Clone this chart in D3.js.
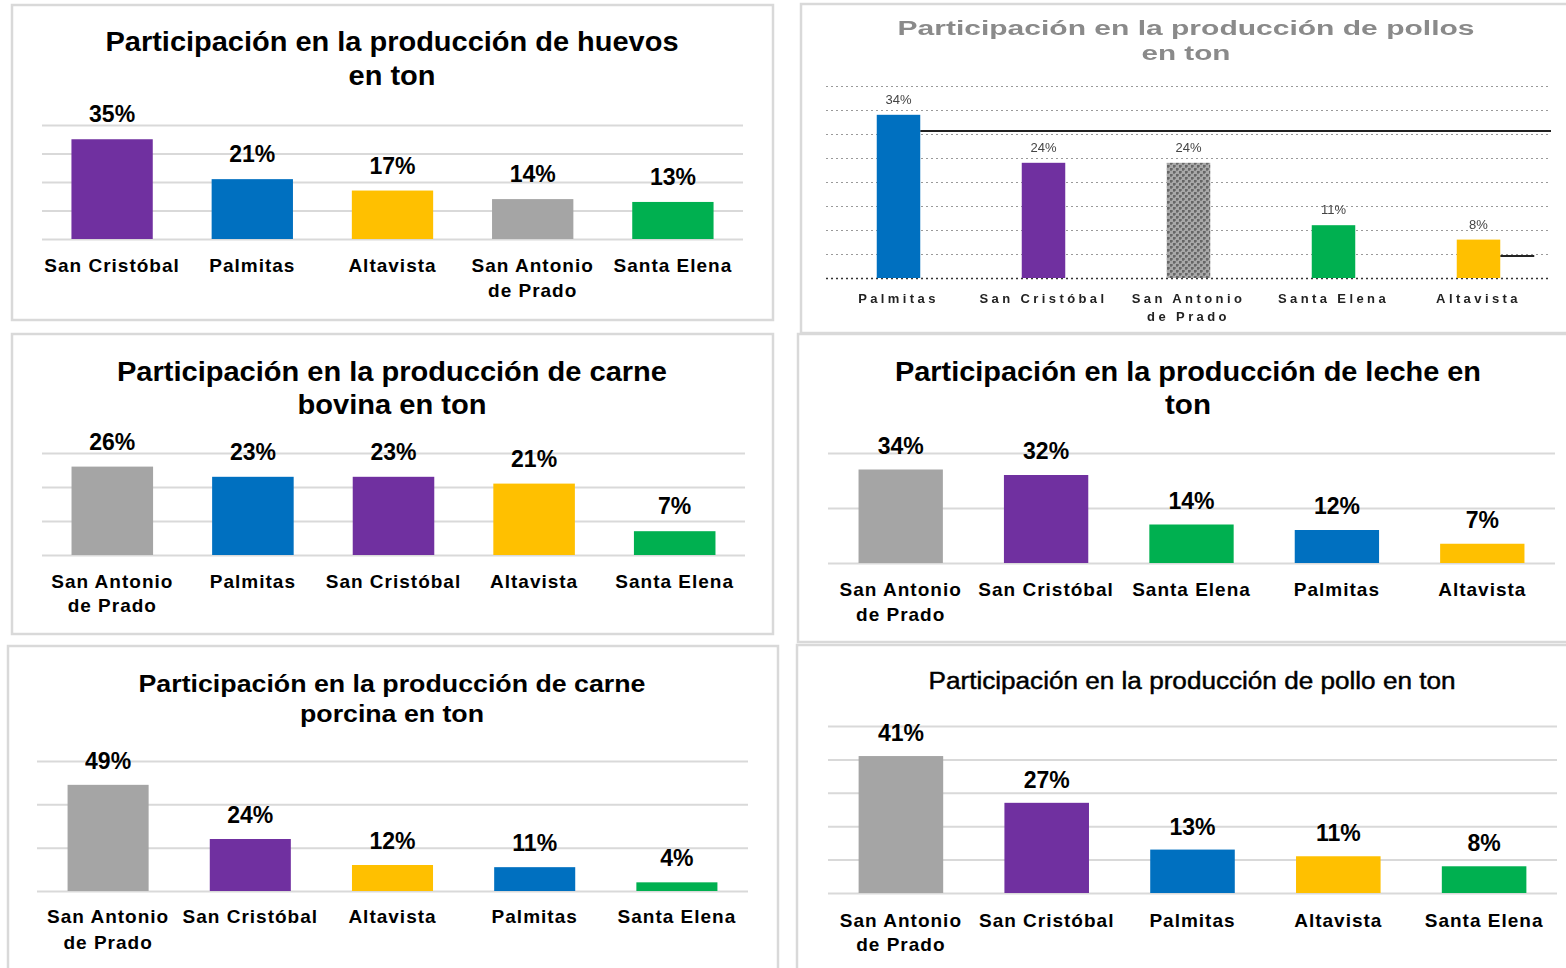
<!DOCTYPE html>
<html lang="es">
<head>
    <meta charset="UTF-8">
    <title>Participación en la producción</title>
    <script src="https://d3js.org/d3.v7.min.js"></script>
    <style>
        body { margin: 0; background: #fff; }
        svg { display: block; font-family: "Liberation Sans", Arial, sans-serif; }
        .grid line { stroke: #d9d9d9; stroke-width: 2; }
        .grid .domain { display: none; }
    </style>
</head>
<body>
<div id="plot"></div>
<script>
    // datos de cada gráfico
    const huevosCats = ['San Cristóbal', 'Palmitas', 'Altavista', 'San Antonio de Prado', 'Santa Elena'];
    const huevosVals = [35, 21, 17, 14, 13];

    const pollosCats = ['Palmitas', 'San Cristóbal', 'San Antonio de Prado', 'Santa Elena', 'Altavista'];
    const pollosVals = [34, 24, 24, 11, 8];

    const bovinaCats = ['San Antonio de Prado', 'Palmitas', 'San Cristóbal', 'Altavista', 'Santa Elena'];
    const bovinaVals = [26, 23, 23, 21, 7];

    const lecheCats = ['San Antonio de Prado', 'San Cristóbal', 'Santa Elena', 'Palmitas', 'Altavista'];
    const lecheVals = [34, 32, 14, 12, 7];

    const porcinaCats = ['San Antonio de Prado', 'San Cristóbal', 'Altavista', 'Palmitas', 'Santa Elena'];
    const porcinaVals = [49, 24, 12, 11, 4];

    const polloCats = ['San Antonio de Prado', 'San Cristóbal', 'Palmitas', 'Altavista', 'Santa Elena'];
    const polloVals = [41, 27, 13, 11, 8];

    // líneas sueltas que aparecen en el gráfico de pollos
    const pollosRefLine = 30.6;
    const pollosRefLine2 = 4.6;

    const colors = {
        'San Cristóbal': '#7030a0',
        'Palmitas': '#0070c0',
        'Altavista': '#ffc000',
        'San Antonio de Prado': '#a5a5a5',
        'Santa Elena': '#00b050'
    };

    const svg = d3.select('#plot').append('svg')
        .attr('width', 1566)
        .attr('height', 968);

    const defs = svg.append('defs');
    let pat = defs.append('pattern')
        .attr('id', 'noise')
        .attr('width', 6).attr('height', 6)
        .attr('patternUnits', 'userSpaceOnUse');
    pat.append('rect').attr('width', 6).attr('height', 6).attr('fill', '#a8a8a8');
    pat.append('path').attr('d', 'M0 1h3M3 4h3M1 0v3M4 3v3').attr('stroke', '#505050').attr('stroke-width', 1);
    defs.append('filter').attr('id', 'soft')
        .append('feGaussianBlur').attr('stdDeviation', 0.45);

    function splitName(n) {
        return n.replace(' de ', '\nde ').split('\n');
    }

    function drawPanel(p) {
        const g = svg.append('g');

        g.append('rect')
            .attr('x', p.box[0]).attr('y', p.box[1])
            .attr('width', p.box[2]).attr('height', p.box[3])
            .attr('fill', '#fff')
            .attr('stroke', '#d9d9d9')
            .attr('stroke-width', 2.5);

        // titulo
        p.title.forEach(function(line, i) {
            g.append('text')
                .attr('x', p.cx)
                .attr('y', p.titleY[i])
                .attr('text-anchor', 'middle')
                .attr('font-size', p.titleSize)
                .attr('font-weight', p.titleWeight || 'bold')
                .attr('fill', p.titleColor || '#000')
                .attr('stroke', p.titleStroke || null)
                .attr('stroke-width', p.titleStroke ? 0.45 : null)
                .attr('textLength', p.titleW[i])
                .attr('lengthAdjust', 'spacingAndGlyphs')
                .attr('filter', p.blur ? 'url(#soft)' : null)
                .text(line);
        });

        const x = d3.scaleBand()
            .domain(p.cats)
            .range([p.x0, p.x1])
            .paddingInner(p.pad)
            .paddingOuter(p.pad / 2);

        const y = d3.scaleLinear()
            .domain([0, p.max])
            .range([p.yBase, p.yTop]);

        const grid = g.append('g')
            .attr('class', 'grid')
            .attr('transform', 'translate(' + p.x0 + ',0)')
            .call(d3.axisLeft(y)
                .tickValues(d3.range(0, p.max + p.step / 2, p.step))
                .tickSize(-(p.x1 - p.x0))
                .tickFormat(''));

        if (p.dotted) {
            grid.selectAll('line')
                .style('stroke', '#9a9a9a')
                .style('stroke-width', 1)
                .style('stroke-dasharray', '2,3');
            grid.selectAll('.tick').filter(d => d === 0).select('line')
                .style('stroke', '#333')
                .style('stroke-width', 1.5);
        }

        const data = p.cats.map((c, i) => ({cat: c, val: p.vals[i]}));

        if (p.refLines) {
            p.refLines.forEach(function(r) {
                g.append('line')
                    .attr('x1', x(p.cats[r.from]) + x.bandwidth())
                    .attr('x2', r.toEnd ? p.x1 : x(p.cats[r.from]) + x.bandwidth() + 34)
                    .attr('y1', y(r.v)).attr('y2', y(r.v))
                    .attr('stroke', '#222')
                    .attr('stroke-width', 2);
            });
        }

        g.selectAll('rect.bar')
            .data(data)
            .join('rect')
            .attr('class', 'bar')
            .attr('x', d => x(d.cat))
            .attr('width', x.bandwidth())
            .attr('y', d => y(d.val))
            .attr('height', d => y(0) - y(d.val))
            .attr('fill', d => (p.pattern && d.cat === 'San Antonio de Prado') ? 'url(#noise)' : colors[d.cat]);

        g.selectAll('text.val')
            .data(data)
            .join('text')
            .attr('class', 'val')
            .attr('x', d => x(d.cat) + x.bandwidth() / 2)
            .attr('y', d => y(d.val) - p.valGap)
            .attr('text-anchor', 'middle')
            .attr('font-size', p.valSize)
            .attr('font-weight', p.valWeight || 'bold')
            .attr('fill', p.valColor || '#000')
            .attr('filter', p.blur ? 'url(#soft)' : null)
            .text(d => d.val + '%');

        const cl = g.selectAll('text.cat')
            .data(data)
            .join('text')
            .attr('class', 'cat')
            .attr('text-anchor', 'middle')
            .attr('font-size', p.catSize)
            .attr('font-weight', 'bold')
            .attr('letter-spacing', p.catSpacing)
            .attr('fill', p.catColor || '#000')
            .attr('filter', p.blur ? 'url(#soft)' : null);

        cl.selectAll('tspan')
            .data(d => splitName(d.cat).map(t => ({t: t, c: d.cat})))
            .join('tspan')
            .attr('x', d => x(d.c) + x.bandwidth() / 2)
            .attr('y', (d, i) => p.yBase + p.catGap + i * p.catLine)
            .text(d => d.t);
    }

    const panels = [
        {
            cats: huevosCats, vals: huevosVals,
            box: [12, 5, 761, 315],
            title: ['Participación en la producción de huevos', 'en ton'],
            titleY: [51, 85], titleW: [573, 87], titleSize: 27, cx: 392,
            x0: 42, x1: 743, yBase: 239, yTop: 125, max: 40, step: 10, pad: 0.42,
            valSize: 23, valGap: 17, catSize: 19, catSpacing: 1, catGap: 33, catLine: 25
        },
        {
            cats: pollosCats, vals: pollosVals,
            box: [801, 4, 770, 329],
            title: ['Participación en la producción de pollos', 'en ton'],
            titleY: [35, 60], titleW: [577, 89], titleSize: 20, cx: 1186,
            titleColor: '#8a8a8a', blur: true,
            x0: 826, x1: 1551, yBase: 278, yTop: 86, max: 40, step: 5, pad: 0.7,
            dotted: true, pattern: true,
            refLines: [{v: pollosRefLine, from: 0, toEnd: true}, {v: pollosRefLine2, from: 4, toEnd: false}],
            valSize: 13, valGap: 11, valWeight: 'normal', valColor: '#444',
            catSize: 13, catSpacing: 3.4, catGap: 25, catLine: 18, catColor: '#222'
        },
        {
            cats: bovinaCats, vals: bovinaVals,
            box: [12, 334, 761, 300],
            title: ['Participación en la producción de carne', 'bovina en ton'],
            titleY: [381, 414], titleW: [550, 189], titleSize: 27, cx: 392,
            x0: 42, x1: 745, yBase: 555, yTop: 453, max: 30, step: 10, pad: 0.42,
            valSize: 23, valGap: 17, catSize: 19, catSpacing: 1, catGap: 33, catLine: 24
        },
        {
            cats: lecheCats, vals: lecheVals,
            box: [798, 334, 772, 308],
            title: ['Participación en la producción de leche en', 'ton'],
            titleY: [381, 414], titleW: [586, 46], titleSize: 27, cx: 1188,
            x0: 828, x1: 1555, yBase: 563, yTop: 453, max: 40, step: 20, pad: 0.42,
            valSize: 23, valGap: 16, catSize: 19, catSpacing: 1, catGap: 33, catLine: 25
        },
        {
            cats: porcinaCats, vals: porcinaVals,
            box: [8, 646, 770, 330],
            title: ['Participación en la producción de carne', 'porcina en ton'],
            titleY: [692, 722], titleW: [507, 184], titleSize: 24, cx: 392,
            x0: 37, x1: 748, yBase: 891, yTop: 761, max: 60, step: 20, pad: 0.43,
            valSize: 23, valGap: 16, catSize: 19, catSpacing: 1, catGap: 32, catLine: 26
        },
        {
            cats: polloCats, vals: polloVals,
            box: [797, 645, 773, 330],
            title: ['Participación en la producción de pollo en ton'],
            titleY: [689], titleW: [527], titleSize: 23, titleWeight: 'normal', titleStroke: '#000', cx: 1192,
            x0: 828, x1: 1557, yBase: 893, yTop: 726, max: 50, step: 10, pad: 0.42,
            valSize: 23, valGap: 15, catSize: 19, catSpacing: 1, catGap: 34, catLine: 24
        }
    ];

    panels.forEach(drawPanel);
</script>
</body>
</html>
